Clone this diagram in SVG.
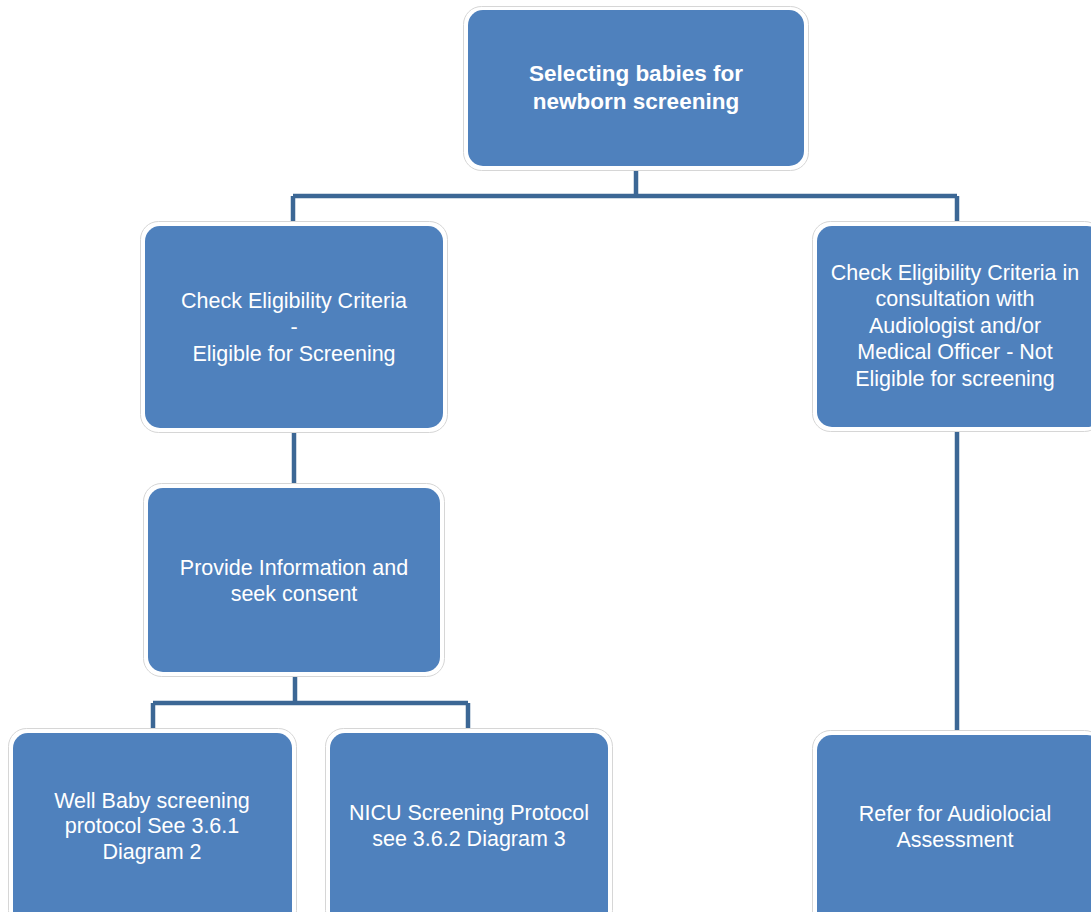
<svg xmlns="http://www.w3.org/2000/svg" width="1091" height="912" viewBox="0 0 1091 912">
<defs>
<style>
.frame{fill:#ffffff;stroke:#d6d6d6;stroke-width:1}
.box{fill:#4f81bd}
.conn{fill:none;stroke:#3c6795;stroke-width:4.5}
.t{font-family:"Liberation Sans",Arial,sans-serif;font-size:21.5px;fill:#ffffff;text-anchor:middle}
.tb{font-family:"Liberation Sans",Arial,sans-serif;font-size:22.5px;font-weight:bold;fill:#ffffff;text-anchor:middle}
</style>
</defs>
<rect width="1091" height="912" fill="#ffffff"/>
<g id="connectors">
<path class="conn" d="M636,166 V196 M293,196 H957 M293,196 V226 M957,196 V226"/>
<path class="conn" d="M294,428 V488"/>
<path class="conn" d="M295,672 V703 M153,703 H468 M153,703 V733 M468,703 V733"/>
<path class="conn" d="M957,427 V735"/>
</g>
<g id="n-top">
<rect class="frame" x="463.5" y="6.5" width="345" height="164" rx="18"/>
<rect class="box" x="468" y="10" width="336" height="156" rx="15"/>
<text class="tb" x="636" y="81">Selecting babies for</text>
<text class="tb" x="636" y="109">newborn screening</text>
</g>
<g id="n-eligible">
<rect class="frame" x="140.5" y="221.5" width="307" height="211" rx="18"/>
<rect class="box" x="145" y="226" width="298" height="202" rx="15"/>
<text class="t" x="294" y="308">Check Eligibility Criteria</text>
<text class="t" x="294" y="334">-</text>
<text class="t" x="294" y="361">Eligible for Screening</text>
</g>
<g id="n-not-eligible">
<rect class="frame" x="812.5" y="221.5" width="290" height="210" rx="18"/>
<rect class="box" x="817" y="226" width="285" height="201" rx="15"/>
<text class="t" x="955" y="280">Check Eligibility Criteria in</text>
<text class="t" x="955" y="306">consultation with</text>
<text class="t" x="955" y="333">Audiologist and/or</text>
<text class="t" x="955" y="359">Medical Officer - Not</text>
<text class="t" x="955" y="386">Eligible for screening</text>
</g>
<g id="n-consent">
<rect class="frame" x="143.5" y="483.5" width="301" height="193" rx="18"/>
<rect class="box" x="148" y="488" width="292" height="184" rx="15"/>
<text class="t" x="294" y="575">Provide Information and</text>
<text class="t" x="294" y="601">seek consent</text>
</g>
<g id="n-wellbaby">
<rect class="frame" x="8.5" y="728.5" width="288" height="200" rx="18"/>
<rect class="box" x="13" y="733" width="279" height="195" rx="15"/>
<text class="t" x="152" y="808">Well Baby screening</text>
<text class="t" x="152" y="833">protocol See 3.6.1</text>
<text class="t" x="152" y="859">Diagram 2</text>
</g>
<g id="n-nicu">
<rect class="frame" x="325.5" y="728.5" width="287" height="200" rx="18"/>
<rect class="box" x="330" y="733" width="278" height="195" rx="15"/>
<text class="t" x="469" y="820">NICU Screening Protocol</text>
<text class="t" x="469" y="846">see 3.6.2 Diagram 3</text>
</g>
<g id="n-refer">
<rect class="frame" x="812.5" y="730.5" width="290" height="200" rx="18"/>
<rect class="box" x="817" y="735" width="285" height="195" rx="15"/>
<text class="t" x="955" y="821">Refer for Audiolocial</text>
<text class="t" x="955" y="847">Assessment</text>
</g>
</svg>
